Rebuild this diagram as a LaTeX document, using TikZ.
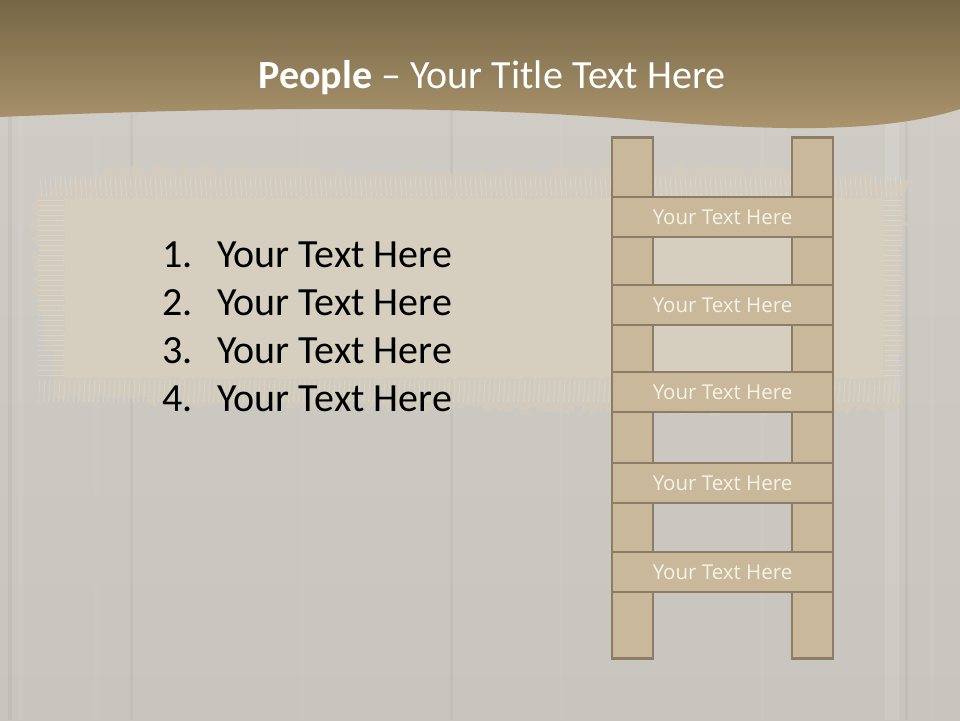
\documentclass[tikz,border=0pt]{standalone}
\usepackage{fontspec}
\setmainfont{Carlito}
\newfontfamily\ladderfont{Open Sans}
\usetikzlibrary{decorations.pathmorphing}
\definecolor{woodtop}{HTML}{D0CDC7}
\definecolor{woodbot}{HTML}{C8C5BE}
\definecolor{bandtop}{HTML}{766645}
\definecolor{bandbot}{HTML}{AD976F}
\definecolor{burlap}{HTML}{D6CFC0}
\definecolor{fringe}{HTML}{D4CCBC}
\definecolor{ladfill}{HTML}{C9B99A}
\definecolor{ladline}{HTML}{8C7E66}
\definecolor{ladtext}{HTML}{F7F2E8}
\tikzset{
  railbox/.style={draw=ladline, line width=2.6pt, fill=ladfill, minimum width=41pt, inner sep=0pt, anchor=north},
  rungbox/.style={draw=ladline, line width=2.6pt, fill=ladfill, minimum width=221pt, minimum height=40pt, inner sep=0pt,
     font=\ladderfont\fontsize{20.5}{22}\selectfont, text=ladtext},
  listitem/.style={anchor=base west, font=\fontsize{40}{44}\selectfont, text=black, inner sep=0pt},
}
\begin{document}
\begin{tikzpicture}[x=1pt,y=-1pt]
\useasboundingbox (0,0) rectangle (960,720);
% wood background
\shade[top color=woodtop, bottom color=woodbot] (0,0) rectangle (960,720);
\foreach \x/\w/\o in {18/5/0.06,95/3/0.04,300/4/0.03,560/3/0.04,760/4/0.04,885/14/0.10,930/4/0.04}{
  \fill[white, opacity=\o] (\x,110) rectangle ++(\w,610);
}
\foreach \x/\w/\o in {8/4/0.04,130/3/0.03,450/3/0.03,905/3/0.04}{
  \fill[black, opacity=\o] (\x,110) rectangle ++(\w,610);
}
% burlap patch
\fill[fringe, opacity=0.75, decorate, decoration={random steps, segment length=4pt, amplitude=6pt}]
  (36,192) -- (120,166) -- (400,174) -- (700,166) -- (906,180) -- (902,300) -- (896,410) -- (600,412) -- (300,404) -- (60,400) -- (34,300) -- cycle;
\fill[burlap, decorate, decoration={random steps, segment length=3pt, amplitude=1.5pt}] (64,198) rectangle (884,378);
\foreach \x in {40,45,...,900}{
  \draw[white, opacity=0.18, line width=0.8pt] (\x,176) -- ++(1.5,20);
  \draw[white, opacity=0.18, line width=0.8pt] (\x,380) -- ++(-1.5,22);
}
\foreach \y in {200,205,...,378}{
  \draw[white, opacity=0.18, line width=0.8pt] (38,\y) -- (64,\y);
  \draw[white, opacity=0.18, line width=0.8pt] (884,\y) -- (902,\y);
}
% top band
\shade[top color=bandtop, bottom color=bandbot]
  (0,0) -- (960,0) -- (960,109) .. controls (880,135) and (760,130) .. (640,120)
  .. controls (500,108) and (300,104) .. (0,117) -- cycle;
\node[anchor=base, text=white, font=\fontsize{40}{44}\selectfont, inner sep=0pt] (title) at (492,88)
  {\textbf{People} – Your Title Text Here};
% list
\foreach \n/\y in {1/267,2/315,3/363,4/411}{
  \node[listitem] (num\n) at (162,\y) {\n.};
  \node[listitem] (item\n) at (217,\y) {Your Text Here};
}
% ladder
\node[railbox, minimum height=521pt] (lrail) at (632.5,136) {};
\node[railbox, minimum height=521pt] (rrail) at (812.5,136) {};
\node[rungbox] (r1) at (722.5,217) {Your Text Here};
\node[rungbox] (r2) at (722.5,305) {Your Text Here};
\node[rungbox] (r3) at (722.5,392) {Your Text Here};
\node[rungbox] (r4) at (722.5,483) {Your Text Here};
\node[rungbox] (r5) at (722.5,572) {Your Text Here};
\end{tikzpicture}
\end{document}
